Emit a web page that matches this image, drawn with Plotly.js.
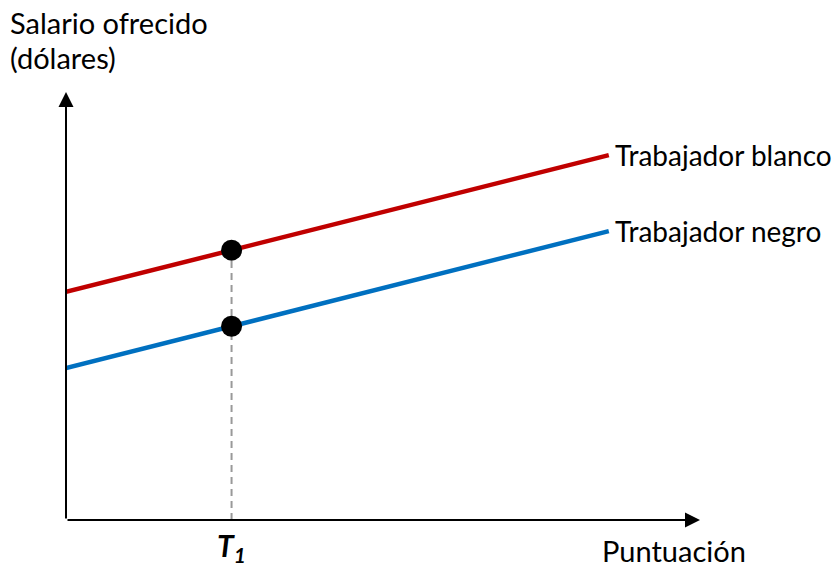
<!DOCTYPE html>
<html><head><meta charset="utf-8">
<script src="https://cdn.plot.ly/plotly-3.0.1.min.js"></script>
<style>html,body{margin:0;padding:0;background:#fff}</style>
</head><body>
<div id="chart" style="width:832px;height:570px"></div>
<script>
// Data (abstract units)
const scoreX = [0, 10];
const whiteWage = [6, 9.6];
const blackWage = [4, 7.6];
const t1 = 3.05;
const t1Points = [7.098, 5.098];
const seriesNames = ["Trabajador blanco", "Trabajador negro"];
const xLabel = "Puntuación";
const yLabelLines = ["Salario ofrecido", "(dólares)"];
const t1Label = "<b><i>T<sub>1</sub></i></b>";
const axisMax = {x: 11.68, y: 11.26};

const font = "Lato, 'Open Sans', sans-serif";

const traces = [
  {x: [t1, t1], y: [0, t1Points[0]], mode: 'lines', line: {color: '#999999', width: 2, dash: '7px,5px'}, hoverinfo: 'skip'},
  {x: scoreX, y: whiteWage, mode: 'lines', line: {color: '#C00000', width: 4.5}, name: seriesNames[0]},
  {x: scoreX, y: blackWage, mode: 'lines', line: {color: '#0070C0', width: 4.5}, name: seriesNames[1]},
  {x: [t1, t1], y: t1Points, mode: 'markers', marker: {color: '#000', size: 21}, hoverinfo: 'skip'}
];

const annotations = [
  // axes arrows
  {x: axisMax.x, y: 0, ax: 0, ay: 0, xref: 'x', yref: 'y', axref: 'x', ayref: 'y', text: '', showarrow: true, arrowhead: 2, arrowsize: 1.5, arrowwidth: 2, arrowcolor: '#000'},
  {x: 0, y: axisMax.y, ax: 0, ay: 0, xref: 'x', yref: 'y', axref: 'x', ayref: 'y', text: '', showarrow: true, arrowhead: 2, arrowsize: 1.5, arrowwidth: 2, arrowcolor: '#000'},
  // series labels
  {x: scoreX[1], y: whiteWage[1], xref: 'x', yref: 'y', text: seriesNames[0], showarrow: false, xanchor: 'left', yanchor: 'middle', xshift: 4, font: {family: font, size: 28, color: '#000'}},
  {x: scoreX[1], y: blackWage[1], xref: 'x', yref: 'y', text: seriesNames[1], showarrow: false, xanchor: 'left', yanchor: 'middle', xshift: 4, font: {family: font, size: 28, color: '#000'}},
  // axis titles
  {x: (8-66)/634, y: (520-22)/428, xref: 'paper', yref: 'paper', text: yLabelLines[0], showarrow: false, xanchor: 'left', yanchor: 'middle', font: {family: font, size: 29, color: '#000'}},
  {x: (8-66)/634, y: (520-58)/428, xref: 'paper', yref: 'paper', text: yLabelLines[1], showarrow: false, xanchor: 'left', yanchor: 'middle', font: {family: font, size: 29, color: '#000'}},
  {x: (674-66)/634, y: (520-550)/428, xref: 'paper', yref: 'paper', text: xLabel, showarrow: false, xanchor: 'center', yanchor: 'middle', font: {family: font, size: 29, color: '#000'}},
  {x: t1, y: (520-547)/428, xref: 'x', yref: 'paper', text: t1Label, showarrow: false, xanchor: 'center', yanchor: 'middle', font: {family: font, size: 30, color: '#000'}}
];

const layout = {
  width: 832, height: 570,
  margin: {l: 66, r: 132, t: 92, b: 50, pad: 0},
  paper_bgcolor: '#fff', plot_bgcolor: '#fff',
  showlegend: false,
  xaxis: {range: [0, axisMax.x], showgrid: false, zeroline: false, showticklabels: false, ticks: '', showline: false, fixedrange: true},
  yaxis: {range: [0, axisMax.y], showgrid: false, zeroline: false, showticklabels: false, ticks: '', showline: false, fixedrange: true},
  annotations: annotations
};

Plotly.newPlot('chart', traces, layout, {staticPlot: true, displayModeBar: false});
</script>
</body></html>
